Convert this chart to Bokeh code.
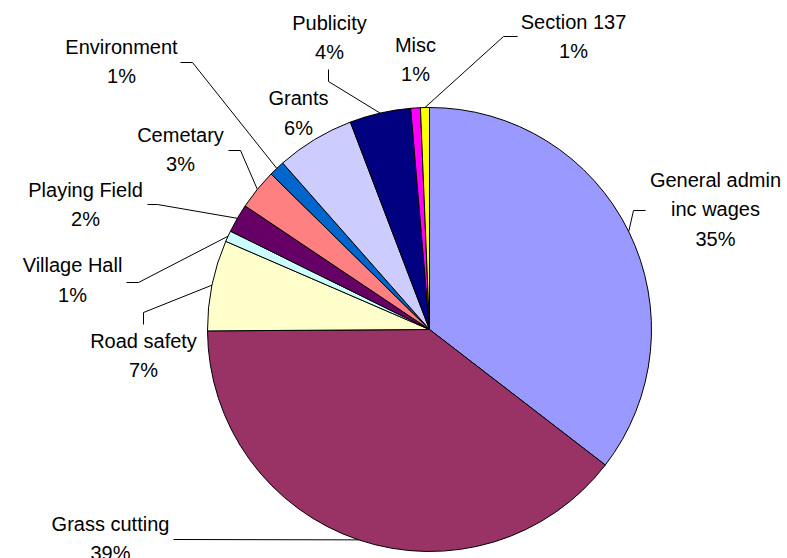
import math
from bokeh.plotting import figure
from bokeh.models import Range1d
from bokeh.embed import file_html
from bokeh.resources import INLINE
from bokeh.core.properties import value

# ---- data ----
categories = ["General admin\ninc wages", "Grass cutting", "Road safety", "Village Hall",
              "Playing Field", "Cemetary", "Environment", "Grants", "Publicity", "Misc",
              "Section 137"]
amounts = [35.45, 39.45, 6.6, 0.8, 2.1, 2.95, 1.15, 5.7, 4.45, 0.7, 0.65]
colors = ["#9999FF", "#993366", "#FFFFCC", "#CCFFFF", "#660066", "#FF8080",
          "#0066CC", "#CCCCFF", "#000080", "#FF00FF", "#FFFF00"]

# ---- layout (picture pixel coordinates) ----
CX, CY, R = 429, 329, 222
label_x = [715, 110, 143, 72, 85, 180, 121, 298, 329, 415, 573]
label_y = [209, 538, 355, 279.5, 204, 149, 61, 112.5, 37, 59, 36]
leaders = [
    [(645, 210), (633, 210)],
    [(173, 539)],
    [(143, 324), (143, 312)],
    [(126, 282), (138, 282)],
    [(147, 204), (157, 204)],
    [(228, 150), (240, 150)],
    [(180, 62), (192, 62)],
    None,
    [(328, 69), (328, 81)],
    None,
    [(517, 36), (503, 36)],
]

W, H = 787, 558


def py(y):
    return H - y


p = figure(width=W, height=H, output_backend="svg", toolbar_location=None,
           x_range=Range1d(0, W), y_range=Range1d(0, H),
           x_axis_type=None, y_axis_type=None, min_border=0,
           outline_line_color=None, background_fill_color="white",
           border_fill_color="white")
p.grid.visible = False

total = sum(amounts)
cum = [0.0]
for a in amounts:
    cum.append(cum[-1] + a / total)

starts = [math.pi / 2 - 2 * math.pi * cum[i + 1] for i in range(len(amounts))]
ends = [math.pi / 2 - 2 * math.pi * cum[i] for i in range(len(amounts))]

p.wedge(x=[CX] * len(amounts), y=[py(CY)] * len(amounts), radius=R,
        start_angle=starts, end_angle=ends, direction="anticlock",
        fill_color=colors, line_color="black", line_width=1)

for i, pts in enumerate(leaders):
    if pts is None:
        continue
    mid = (cum[i] + cum[i + 1]) / 2 * 2 * math.pi
    ex = CX + R * math.sin(mid)
    ey = CY - R * math.cos(mid)
    xs = [q[0] for q in pts] + [ex]
    ys = [py(q[1]) for q in pts] + [py(ey)]
    p.line(xs, ys, line_color="black", line_width=1)

texts = [f"{c}\n{round(a / total * 100)}%" for c, a in zip(categories, amounts)]
p.text(x=label_x, y=[py(v) for v in label_y], text=texts,
       text_align="center", text_baseline="middle",
       text_font=value("Liberation Sans"), text_font_size="20px",
       text_line_height=1.35, text_color="black")

open("out.html", "w").write(file_html(p, INLINE))
